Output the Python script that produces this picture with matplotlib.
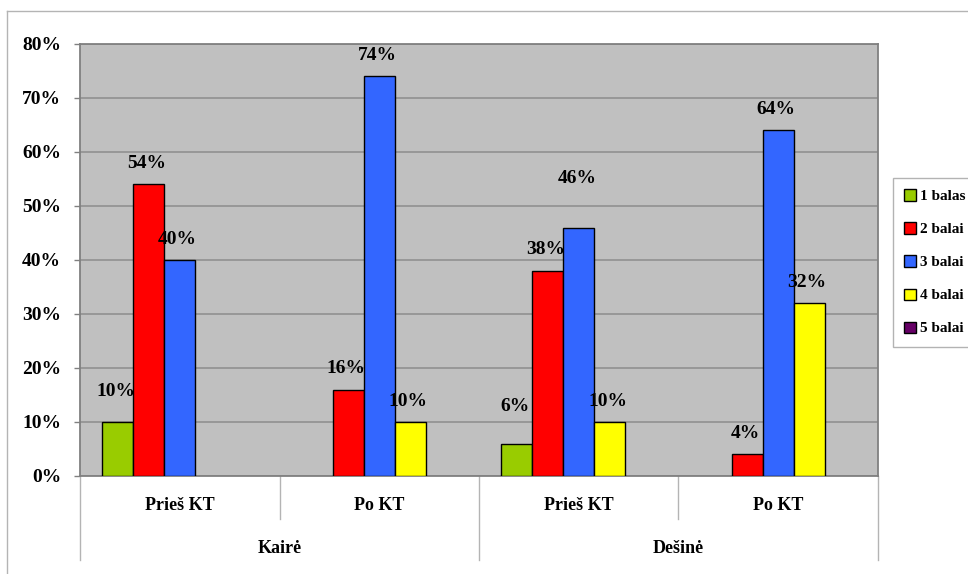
import numpy as np
import matplotlib
matplotlib.use("Agg")
import matplotlib.pyplot as plt
from matplotlib.patches import Patch
from matplotlib.lines import Line2D
from matplotlib.ticker import FuncFormatter
from matplotlib.transforms import blended_transform_factory

# ------------------------------------------------------------------
# data: share of patients by score, before/after for each side
# ------------------------------------------------------------------
categories = ["Prieš KT", "Po KT", "Prieš KT", "Po KT"]
sides = ["Kairė", "Dešinė"]
series_names = ["1 balas", "2 balai", "3 balai", "4 balai", "5 balai"]

balas_1 = [10, 0, 6, 0]
balai_2 = [54, 16, 38, 4]
balai_3 = [40, 74, 46, 64]
balai_4 = [0, 10, 10, 32]
balai_5 = [0, 0, 0, 0]

y_ticks = [0, 10, 20, 30, 40, 50, 60, 70, 80]

series_values = [balas_1, balai_2, balai_3, balai_4, balai_5]
colors = ["#99CC00", "#FF0000", "#3366FF", "#FFFF00", "#660066"]

# a few labels are pushed a bit higher so they clear the neighbouring bar
extra_lift = {(0, 0): 9, (0, 2): 16, (2, 2): 28}

plt.rcParams["font.family"] = ["Liberation Serif", "DejaVu Serif"]
plt.rcParams["font.weight"] = "bold"

fig = plt.figure(figsize=(9.68, 5.74), dpi=100)
ax = fig.add_axes([80 / 968, 98 / 574, 798 / 968, 432 / 574])
ax.set_facecolor("#C0C0C0")

bar_w = 0.155
x = np.arange(len(categories)) + 0.5

for i, vals in enumerate(series_values):
    for j, v in enumerate(vals):
        if v <= 0:
            continue
        xpos = x[j] + (i - 2) * bar_w
        ax.bar(xpos, v, width=bar_w, color=colors[i], edgecolor="black",
               linewidth=1.0, zorder=3)
        lift = 21 + extra_lift.get((i, j), 0)
        ax.annotate(f"{v}%", (xpos, v), xytext=(-2, lift),
                    textcoords="offset pixels", ha="center", va="center",
                    fontsize=14, fontweight="bold", zorder=4)

ax.set_xlim(0, 4)
ax.set_ylim(0, 80)
ax.set_yticks(y_ticks)
ax.yaxis.set_major_formatter(FuncFormatter(lambda v, p: f"{v:.0f}%"))
ax.set_xticks([])
ax.tick_params(axis="y", length=4.5, width=1, color="#808080", pad=9,
               labelsize=14)
ax.grid(axis="y", color="#8C8C8C", linewidth=1.1, zorder=1)
ax.set_axisbelow(True)
for s in ax.spines.values():
    s.set_color("#808080")
    s.set_linewidth(1.3)

# category separators and labels under the axis
trans = blended_transform_factory(ax.transData, ax.transAxes)
for k in range(len(categories) + 1):
    bottom = -0.194 if k % 2 == 0 else -0.0995
    ax.plot([k, k], [0, bottom], transform=trans, color="#B4B4B4",
            linewidth=1, clip_on=False)
for j, c in enumerate(categories):
    ax.text(x[j], -0.069, c, transform=trans, ha="center", va="center",
            fontsize=13, fontweight="bold")
for g, s in enumerate(sides):
    ax.text(1 + 2 * g, -0.167, s, transform=trans, ha="center",
            va="center", fontsize=13, fontweight="bold")

# outer frame of the chart area (top and left edges)
fig.add_artist(Line2D([7 / 968, 1], [1 - 11 / 574, 1 - 11 / 574],
                      color="#B4B4B4", linewidth=1))
fig.add_artist(Line2D([7 / 968, 7 / 968], [0, 1 - 11 / 574],
                      color="#B4B4B4", linewidth=1))

handles = [Patch(facecolor=c, edgecolor="black", linewidth=1) for c in colors]
leg = fig.legend(handles, series_names, loc="upper left",
                 bbox_to_anchor=(893 / 968, 1 - 178 / 574),
                 frameon=True, fancybox=False, edgecolor="#A0A0A0",
                 fontsize=11, handlelength=0.75, handleheight=0.75,
                 handletextpad=0.3, labelspacing=1.25, borderpad=0.75,
                 borderaxespad=0)
leg.get_frame().set_linewidth(1)

fig.savefig("out.png", dpi=100)
